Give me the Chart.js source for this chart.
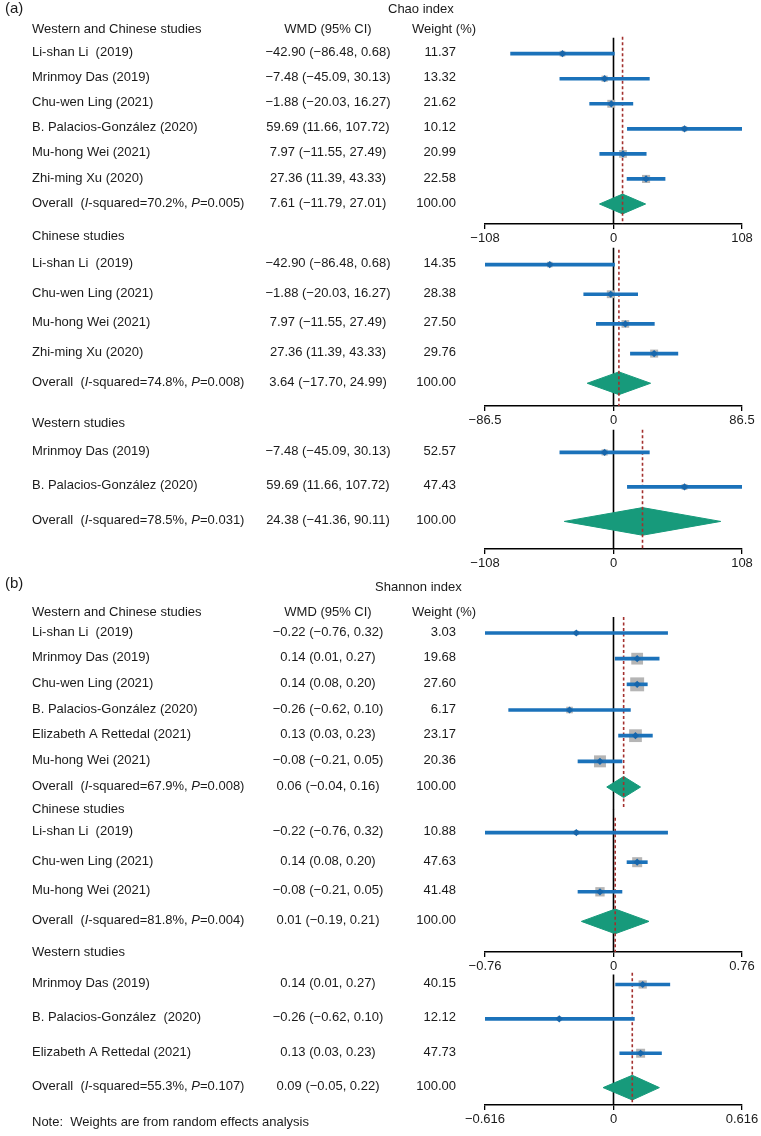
<!DOCTYPE html>
<html>
<head>
<meta charset="utf-8">
<script src="https://cdn.jsdelivr.net/npm/chart.js@4.4.1/dist/chart.umd.min.js"></script>
<style>
  html, body { margin: 0; padding: 0; background: #fff; }
  #wrap { position: relative; width: 761px; height: 1136px; }
  #wrap canvas { position: absolute; left: 0; top: 0; }
</style>
</head>
<body>
<div id="wrap"></div>
<script>
/* ---------- Chao index ---------- */
const chaoAllStudies = ["Li-shan Li  (2019)", "Mrinmoy Das (2019)", "Chu-wen Ling (2021)", "B. Palacios-González (2020)", "Mu-hong Wei (2021)", "Zhi-ming Xu (2020)"];
const chaoAllWmd = [-42.90, -7.48, -1.88, 59.69, 7.97, 27.36];
const chaoAllLow = [-86.48, -45.09, -20.03, 11.66, -11.55, 11.39];
const chaoAllHigh = [0.68, 30.13, 16.27, 107.72, 27.49, 43.33];
const chaoAllWeight = [11.37, 13.32, 21.62, 10.12, 20.99, 22.58];
const chaoAllPooled = [7.61, -11.79, 27.01]; // wmd, low, high
const chaoAllHet = [70.2, 0.005];             // I-squared, P

const chaoCnStudies = ["Li-shan Li  (2019)", "Chu-wen Ling (2021)", "Mu-hong Wei (2021)", "Zhi-ming Xu (2020)"];
const chaoCnWmd = [-42.90, -1.88, 7.97, 27.36];
const chaoCnLow = [-86.48, -20.03, -11.55, 11.39];
const chaoCnHigh = [0.68, 16.27, 27.49, 43.33];
const chaoCnWeight = [14.35, 28.38, 27.50, 29.76];
const chaoCnPooled = [3.64, -17.70, 24.99];
const chaoCnHet = [74.8, 0.008];

const chaoWsStudies = ["Mrinmoy Das (2019)", "B. Palacios-González (2020)"];
const chaoWsWmd = [-7.48, 59.69];
const chaoWsLow = [-45.09, 11.66];
const chaoWsHigh = [30.13, 107.72];
const chaoWsWeight = [52.57, 47.43];
const chaoWsPooled = [24.38, -41.36, 90.11];
const chaoWsHet = [78.5, 0.031];

/* ---------- Shannon index ---------- */
const shanAllStudies = ["Li-shan Li  (2019)", "Mrinmoy Das (2019)", "Chu-wen Ling (2021)", "B. Palacios-González (2020)", "Elizabeth A Rettedal (2021)", "Mu-hong Wei (2021)"];
const shanAllWmd = [-0.22, 0.14, 0.14, -0.26, 0.13, -0.08];
const shanAllLow = [-0.76, 0.01, 0.08, -0.62, 0.03, -0.21];
const shanAllHigh = [0.32, 0.27, 0.20, 0.10, 0.23, 0.05];
const shanAllWeight = [3.03, 19.68, 27.60, 6.17, 23.17, 20.36];
const shanAllPooled = [0.06, -0.04, 0.16];
const shanAllHet = [67.9, 0.008];

const shanCnStudies = ["Li-shan Li  (2019)", "Chu-wen Ling (2021)", "Mu-hong Wei (2021)"];
const shanCnWmd = [-0.22, 0.14, -0.08];
const shanCnLow = [-0.76, 0.08, -0.21];
const shanCnHigh = [0.32, 0.20, 0.05];
const shanCnWeight = [10.88, 47.63, 41.48];
const shanCnPooled = [0.01, -0.19, 0.21];
const shanCnHet = [81.8, 0.004];

const shanWsStudies = ["Mrinmoy Das (2019)", "B. Palacios-González  (2020)", "Elizabeth A Rettedal (2021)"];
const shanWsWmd = [0.14, -0.26, 0.13];
const shanWsLow = [0.01, -0.62, 0.03];
const shanWsHigh = [0.27, 0.10, 0.23];
const shanWsWeight = [40.15, 12.12, 47.73];
const shanWsPooled = [0.09, -0.05, 0.22];
const shanWsHet = [55.3, 0.107];

/* ---------- Axis ticks ---------- */
const chaoAllTicks = [-108, 0, 108];
const chaoCnTicks = [-86.5, 0, 86.5];
const chaoWsTicks = [-108, 0, 108];
const shanAllTicks = [-0.76, 0, 0.76];
const shanWsTicks = [-0.616, 0, 0.616];

/* ---------- Look ---------- */
const W = 761, H = 1136;
const FAMILY = '"Liberation Sans", Arial, Helvetica, sans-serif';
const FONT = '13px ' + FAMILY;
const INK = '#1a1a1a';
const BLUE = '#1b72ba';
const GRAY = '#b5b5b5';
const GREEN = '#179a7b';
const RED = '#a3302e';
const PLOT_LEFT = 485, PLOT_RIGHT = 742;
const NAME_X = 32, WMD_X = 328, WT_X = 456, WT_HEAD_X = 412;

Chart.defaults.font.family = FAMILY;
Chart.defaults.font.size = 13;
Chart.defaults.color = INK;

const fmt = v => (v < 0 ? "\u2212" : "") + Math.abs(v).toFixed(2);
const tickFmt = v => (v < 0 ? "\u2212" : "") + Math.abs(v);

const panels = [
  { group: "Western and Chinese studies", studies: chaoAllStudies, wmd: chaoAllWmd, low: chaoAllLow, high: chaoAllHigh,
    weight: chaoAllWeight, pooled: chaoAllPooled, het: chaoAllHet, ticks: chaoAllTicks,
    layout: { row1: 54, pitch: 25.3, header: 30, zeroFrom: 38, dashFrom: 37, bottom: 226, dashTo: 226, axis: true, diamond: 10, box: 1.7, columns: true } },
  { group: "Chinese studies", studies: chaoCnStudies, wmd: chaoCnWmd, low: chaoCnLow, high: chaoCnHigh,
    weight: chaoCnWeight, pooled: chaoCnPooled, het: chaoCnHet, ticks: chaoCnTicks,
    layout: { row1: 265, pitch: 30, header: 237, zeroFrom: 248, dashFrom: 250, bottom: 408, dashTo: 408, axis: true, diamond: 11.5, box: 1.47 } },
  { group: "Western studies", studies: chaoWsStudies, wmd: chaoWsWmd, low: chaoWsLow, high: chaoWsHigh,
    weight: chaoWsWeight, pooled: chaoWsPooled, het: chaoWsHet, ticks: chaoWsTicks,
    layout: { row1: 453, pitch: 35, header: 424, zeroFrom: 430, dashFrom: 430, bottom: 551, dashTo: 551, axis: true, diamond: 14, box: 0.85 } },
  { group: "Western and Chinese studies", studies: shanAllStudies, wmd: shanAllWmd, low: shanAllLow, high: shanAllHigh,
    weight: shanAllWeight, pooled: shanAllPooled, het: shanAllHet, ticks: shanAllTicks,
    layout: { row1: 633, pitch: 25.67, header: 612, zeroFrom: 617, dashFrom: 617, bottom: 810, dashTo: 808, axis: false, diamond: 10.5, box: 2.65, columns: true } },
  { group: "Chinese studies", studies: shanCnStudies, wmd: shanCnWmd, low: shanCnLow, high: shanCnHigh,
    weight: shanCnWeight, pooled: shanCnPooled, het: shanCnHet, ticks: shanAllTicks,
    layout: { row1: 833, pitch: 30, header: 810, zeroFrom: 810, dashFrom: 818, bottom: 954, dashTo: 954, axis: true, diamond: 12.5, box: 1.45 } },
  { group: "Western studies", studies: shanWsStudies, wmd: shanWsWmd, low: shanWsLow, high: shanWsHigh,
    weight: shanWsWeight, pooled: shanWsPooled, het: shanWsHet, ticks: shanWsTicks,
    layout: { row1: 985, pitch: 34.8, header: 953, zeroFrom: 975, dashFrom: 973, bottom: 1107, dashTo: 1107, axis: true, diamond: 12.5, box: 1.3 } },
];

// text with italic pieces, drawn left to right
function drawRuns(ctx, runs, x, y) {
  for (const [t, it] of runs) {
    ctx.font = (it ? "italic " : "") + FONT;
    ctx.fillText(t, x, y);
    x += ctx.measureText(t).width;
  }
  ctx.font = FONT;
}

/* --------------- Text columns of one panel --------------- */
function textPlugin(p, toY) {
  return {
    id: "forestText",
    afterDraw(chart) {
      const ctx = chart.ctx, ys = chart.scales.y, L = p.layout;
      ctx.save();
      ctx.fillStyle = INK;
      ctx.textBaseline = "middle";
      ctx.font = FONT;
      const hy = ys.getPixelForValue(toY(L.header));
      ctx.textAlign = "left";
      ctx.fillText(p.group, NAME_X, hy);
      if (L.columns) {
        ctx.textAlign = "center";
        ctx.fillText("WMD (95% CI)", WMD_X, hy);
        ctx.textAlign = "left";
        ctx.fillText("Weight (%)", WT_HEAD_X, hy);
      }
      const n = p.studies.length;
      for (let i = 0; i <= n; i++) {
        const y = ys.getPixelForValue(i + 1) - 1;
        const last = i === n;
        const est = last ? p.pooled[0] : p.wmd[i];
        const lo = last ? p.pooled[1] : p.low[i];
        const hi = last ? p.pooled[2] : p.high[i];
        ctx.textAlign = "left";
        if (last) {
          drawRuns(ctx, [["Overall  (", false], ["I", true], ["-squared=" + p.het[0].toFixed(1) + "%, ", false],
            ["P", true], ["=" + p.het[1].toFixed(3) + ")", false]], NAME_X, y);
        } else {
          ctx.fillText(p.studies[i], NAME_X, y);
        }
        ctx.textAlign = "center";
        ctx.fillText(fmt(est) + " (" + fmt(lo) + ", " + fmt(hi) + ")", WMD_X, y);
        ctx.textAlign = "right";
        ctx.fillText(last ? "100.00" : p.weight[i].toFixed(2), WT_X, y);
      }
      ctx.restore();
    }
  };
}

/* --------------- Page labels --------------- */
const pageText = {
  id: "pageText",
  afterDraw(chart) {
    const ctx = chart.ctx;
    ctx.save();
    ctx.fillStyle = INK;
    ctx.textBaseline = "middle";
    ctx.textAlign = "left";
    ctx.font = "15px " + FAMILY;
    ctx.fillText("(a)", 5, 9);
    ctx.fillText("(b)", 5, 584);
    ctx.font = FONT;
    ctx.fillText("Chao index", 388, 9);
    ctx.fillText("Shannon index", 375, 587);
    ctx.fillText("Note:  Weights are from random effects analysis", NAME_X, 1122);
    ctx.restore();
  }
};

/* --------------- One chart per panel --------------- */
const wrap = document.getElementById("wrap");
panels.forEach((p, k) => {
  const L = p.layout, n = p.studies.length;
  const toY = px => 1 + (px - L.row1) / L.pitch;
  const areaTop = Math.min(L.header, L.zeroFrom) - 10;
  const axisH = L.axis ? 22.6 : 0;
  const rows = p.studies.map((_, i) => i + 1);
  const r = n + 1;
  const h = L.diamond / L.pitch;
  const [est, lo, hi] = p.pooled;

  const canvas = document.createElement("canvas");
  canvas.width = W;
  canvas.height = H;
  wrap.appendChild(canvas);

  const plugins = [textPlugin(p, toY)];
  if (k === 0) plugins.push(pageText);

  new Chart(canvas, {
    type: "scatter",
    plugins: plugins,
    data: {
      datasets: [
        // line of no effect
        { type: "line", data: [{ x: 0, y: toY(L.zeroFrom) }, { x: 0, y: toY(L.bottom) }],
          borderColor: "#000", borderWidth: 1.6, pointRadius: 0, order: 9 },
        // pooled diamond (upper half, lower half filled to it)
        { type: "line", data: [{ x: lo, y: r }, { x: est, y: r - h }, { x: hi, y: r }],
          borderColor: GREEN, backgroundColor: GREEN, borderWidth: 1, pointRadius: 0, fill: false, order: 8 },
        { type: "line", data: [{ x: lo, y: r }, { x: est, y: r + h }, { x: hi, y: r }],
          borderColor: GREEN, backgroundColor: GREEN, borderWidth: 1, pointRadius: 0, fill: "-1", order: 8 },
        // pooled estimate
        { type: "line", data: [{ x: est, y: toY(L.dashFrom) }, { x: est, y: toY(L.dashTo) }],
          borderColor: RED, borderWidth: 1.6, borderDash: [3, 2.5], pointRadius: 0, order: 7 },
        // weight boxes
        { data: rows.map((y, i) => ({ x: p.wmd[i], y })), pointStyle: "rect",
          pointRadius: p.weight.map(w => L.box * Math.sqrt(w) / Math.SQRT2),
          backgroundColor: GRAY, borderWidth: 0, order: 6 },
        // 95% CI
        { type: "bar", indexAxis: "y", data: rows.map((y, i) => ({ x: [p.low[i], p.high[i]], y })),
          backgroundColor: BLUE, barThickness: 3, grouped: false, borderWidth: 0, order: 5 },
        // study estimate
        { data: rows.map((y, i) => ({ x: p.wmd[i], y })), pointStyle: "rectRot", pointRadius: 3.6,
          backgroundColor: "#1766ab", borderWidth: 0, order: 4 },
      ],
    },
    options: {
      responsive: false,
      animation: false,
      events: [],
      layout: { padding: { left: PLOT_LEFT, right: W - PLOT_RIGHT, top: areaTop, bottom: H - L.bottom - axisH } },
      plugins: { legend: { display: false }, tooltip: { enabled: false } },
      scales: {
        x: {
          type: "linear", min: p.ticks[0], max: p.ticks[2], display: L.axis,
          afterBuildTicks: s => { s.ticks = p.ticks.map(v => ({ value: v })); },
          ticks: { callback: v => tickFmt(v), autoSkip: false, maxRotation: 0, padding: 2, color: INK, font: { size: 13 } },
          grid: { drawOnChartArea: false, drawTicks: true, tickLength: 5, color: "#000", lineWidth: 1.3, offset: false },
          border: { display: true, color: "#000", width: 1.5 },
        },
        y: { type: "linear", display: false, reverse: true, offset: false,
             min: toY(areaTop), max: toY(L.bottom), grid: { offset: false } },
      },
    },
  });
});
</script>
</body>
</html>
